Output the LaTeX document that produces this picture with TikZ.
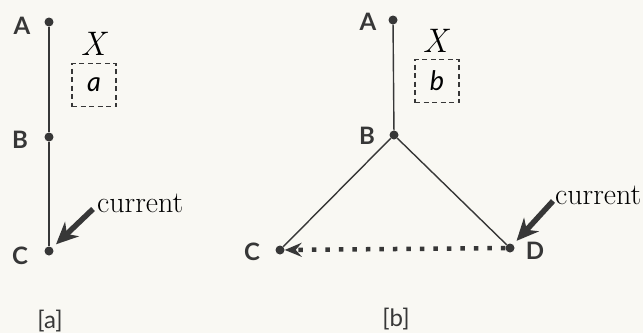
\documentclass[tikz,border=0pt]{standalone}
\usepackage{fontspec}
\setsansfont{Lato}
\usetikzlibrary{arrows.meta,positioning}
\definecolor{inkgrey}{RGB}{55,55,55}
\definecolor{paper}{RGB}{249,248,243}

\tikzset{
  dot/.style={circle,fill=inkgrey,inner sep=0pt,minimum size=9pt},
  ptlabel/.style={font=\sffamily\bfseries\fontsize{24}{28}\selectfont,text=inkgrey},
  wire/.style={inkgrey,line width=1.4pt},
  cbox/.style={draw=inkgrey,line width=1.5pt,dash pattern=on 5pt off 3.5pt,
    minimum width=44pt,minimum height=43pt,inner sep=0pt,
    font=\sffamily\itshape\fontsize{27}{30}\selectfont},
  curarrow/.style={-{Stealth[length=22pt,width=20pt,inset=7pt]},line width=5.5pt,inkgrey},
  curlabel/.style={font=\fontsize{30}{34}\selectfont,anchor=base west,inner sep=0pt},
  dotline/.style={-{Stealth[length=17pt,width=14pt,inset=6pt]},inkgrey,
    line width=4.5pt,dash pattern=on 4.5pt off 9pt},
  setname/.style={font=\itshape\fontsize{34}{38}\selectfont},
  panelname/.style={font=\sffamily\fontsize{24}{28}\selectfont,text=inkgrey},
}

\begin{document}
\begin{tikzpicture}[x=1pt,y=-1pt]
  \fill[paper] (0,0) rectangle (643,333);
  \useasboundingbox (0,0) rectangle (643,333);

  % --- LEFT: [a], a single chain A-B-C ---------------------------------
  \node[dot] (a-A) at (49,22) {};
  \node[dot] (a-B) at (49,137) {};
  \node[dot] (a-C) at (49,251) {};
  \draw[wire] (a-A) -- (a-B) -- (a-C);
  \node[ptlabel] (a-Alab) at (22,26) {A};
  \node[ptlabel] (a-Blab) at (20,140) {B};
  \node[ptlabel] (a-Clab) at (20,256) {C};
  \node[setname] (a-X) at (93,44) {X};
  \node[cbox] (a-box) at (94,85) {a};
  % injected current at C
  \node[curlabel] (a-cur) at (97,212) {current};
  \coordinate (a-tail) at (93,209);
  \draw[curarrow,shorten >=5pt] (a-tail) -- (a-C);
  \node[panelname] (a-name) at (50,321) {[a]};

  % --- RIGHT: [b], B branches to C and D -------------------------------
  \node[dot] (b-A) at (393,20) {};
  \node[dot] (b-B) at (394,135) {};
  \node[dot] (b-C) at (280,250) {};
  \node[dot] (b-D) at (510,248) {};
  \draw[wire] (b-A) -- (b-B);
  \draw[wire] (b-C) -- (b-B) -- (b-D);
  \node[ptlabel] (b-Alab) at (368,22) {A};
  \node[ptlabel] (b-Blab) at (367,136) {B};
  \node[ptlabel] (b-Clab) at (252,252) {C};
  \node[ptlabel] (b-Dlab) at (535,251) {D};
  \node[setname] (b-X) at (435,41) {X};
  \node[cbox] (b-box) at (437,81) {b};
  % current enters at D and flows on to C
  \draw[dotline] (b-D) -- (b-C);
  \node[curlabel] (b-cur) at (555,204) {current};
  \coordinate (b-tail) at (553,201);
  \draw[curarrow,shorten >=5pt] (b-tail) -- (b-D);
  \node[panelname] (b-name) at (396,319) {[b]};
\end{tikzpicture}
\end{document}
